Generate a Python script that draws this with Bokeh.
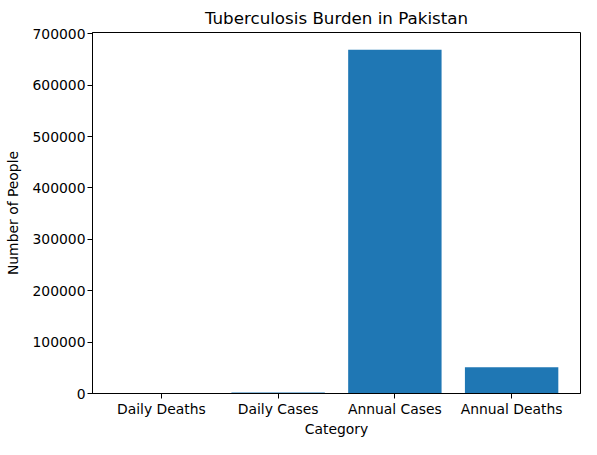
from bokeh.plotting import figure
from bokeh.models import Range1d, FixedTicker, BasicTickFormatter
from bokeh.embed import file_html
from bokeh.resources import INLINE

# data
categories = ["Daily Deaths", "Daily Cases", "Annual Cases", "Annual Deaths"]
people = [140, 1830, 669000, 51000]
y_ticks = [0, 100000, 200000, 300000, 400000, 500000, 600000, 700000]

positions = list(range(len(categories)))
top = max(people) * 1.05

p = figure(
    width=581,
    height=439,
    title="Tuberculosis Burden in Pakistan",
    x_range=Range1d(-0.59, len(categories) - 1 + 0.59),
    y_range=Range1d(0, top),
    output_backend="svg",
    toolbar_location=None,
    min_border_left=92,
    min_border_right=1,
    min_border_top=25,
    min_border_bottom=45,
)

p.vbar(x=positions, top=people, width=0.8, fill_color="#1f77b4", line_color=None)

# looks
font = "DejaVu Sans"
p.title.text_font = font
p.title.text_font_size = "16.7px"
p.title.text_font_style = "normal"
p.title.align = "center"
p.title.text_color = "black"

p.xgrid.visible = False
p.ygrid.visible = False
p.outline_line_color = "black"
p.outline_line_width = 1
p.background_fill_color = "white"
p.border_fill_color = "white"

p.xaxis.ticker = FixedTicker(ticks=positions)
p.xaxis.major_label_overrides = {i: c for i, c in enumerate(categories)}
p.yaxis.ticker = FixedTicker(ticks=y_ticks)
p.yaxis.formatter = BasicTickFormatter(use_scientific=False)

p.xaxis.axis_label = "Category"
p.yaxis.axis_label = "Number of People"

for ax in (p.xaxis, p.yaxis):
    ax.axis_line_color = "black"
    ax.major_tick_line_color = "black"
    ax.major_tick_out = 5
    ax.major_tick_in = 0
    ax.minor_tick_line_color = None
    ax.major_label_text_font = font
    ax.major_label_text_font_size = "13.9px"
    ax.major_label_text_color = "black"
    ax.axis_label_text_font = font
    ax.axis_label_text_font_size = "13.9px"
    ax.axis_label_text_font_style = "normal"
    ax.axis_label_text_color = "black"
    ax.major_label_standoff = 2

p.xaxis.axis_label_standoff = 1
p.yaxis.axis_label_standoff = 8

open("out.html", "w").write(file_html(p, INLINE))
